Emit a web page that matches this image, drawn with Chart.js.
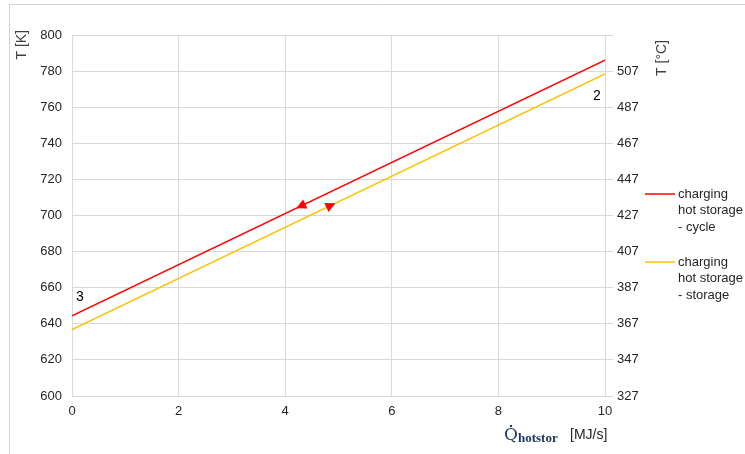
<!DOCTYPE html>
<html>
<head>
<meta charset="utf-8">
<script src="https://cdn.jsdelivr.net/npm/chart.js@4.4.1/dist/chart.umd.min.js"></script>
<style>
  html, body { margin: 0; padding: 0; background: #fff; }
  #box { width: 745px; height: 454px; position: relative; }
</style>
</head>
<body>
<div id="box"><canvas id="myChart"></canvas></div>
<script>
// data
const qValues = [0, 10];
const tCycle = [644.4, 786.1];
const tStorage = [636.8, 778.5];
const seriesNames = [['charging', 'hot storage', '- cycle'], ['charging', 'hot storage', '- storage']];
const seriesColors = ['#ff0000', '#ffc000'];
// arrows along the lines (x position, direction)
const arrowX = [4.3, 4.85];
const arrowDir = [-1, 1];
// point labels
const pointLabels = ['3', '2'];
const pointLabelX = [0.15, 9.85];
const pointLabelY = [655, 766];

const K_TO_C = 273;

function lineAt(ys, x) {
  return ys[0] + (ys[1] - ys[0]) * (x - qValues[0]) / (qValues[1] - qValues[0]);
}

const extras = {
  id: 'extras',
  afterDraw(chart) {
    const ctx = chart.ctx;
    const xs = chart.scales.x, ys = chart.scales.y;
    ctx.save();
    // frame
    ctx.strokeStyle = '#d0d0d0';
    ctx.lineWidth = 1;
    ctx.beginPath();
    ctx.moveTo(9.5, 454);
    ctx.lineTo(9.5, 4.5);
    ctx.lineTo(745, 4.5);
    ctx.stroke();

    // arrows
    const lines = [tCycle, tStorage];
    for (let i = 0; i < arrowX.length; i++) {
      const ax = arrowX[i];
      const px = xs.getPixelForValue(ax);
      const py = ys.getPixelForValue(lineAt(lines[i], ax));
      const px2 = xs.getPixelForValue(ax + 1);
      const py2 = ys.getPixelForValue(lineAt(lines[i], ax + 1));
      let ang = Math.atan2(py2 - py, px2 - px);
      if (arrowDir[i] < 0) ang += Math.PI;
      ctx.save();
      ctx.translate(px, py);
      ctx.rotate(ang);
      ctx.fillStyle = '#ff0000';
      ctx.beginPath();
      ctx.moveTo(5.5, 0);
      ctx.lineTo(-4.5, -5);
      ctx.lineTo(-4.5, 5);
      ctx.closePath();
      ctx.fill();
      ctx.restore();
    }

    // point labels
    ctx.fillStyle = '#000';
    ctx.font = '14px "Liberation Sans", Arial, sans-serif';
    ctx.textBaseline = 'middle';
    ctx.textAlign = 'center';
    for (let i = 0; i < pointLabels.length; i++) {
      ctx.fillText(pointLabels[i], xs.getPixelForValue(pointLabelX[i]), ys.getPixelForValue(pointLabelY[i]));
    }

    // axis titles
    ctx.fillStyle = '#404040';
    ctx.font = '14px "Liberation Sans", Arial, sans-serif';
    ctx.save();
    ctx.translate(22, 30);
    ctx.rotate(-Math.PI / 2);
    ctx.textAlign = 'right';
    ctx.fillText('T [K]', 0, 0);
    ctx.restore();
    ctx.save();
    ctx.translate(662, 40);
    ctx.rotate(-Math.PI / 2);
    ctx.textAlign = 'right';
    ctx.fillText('T [°C]', 0, 0);
    ctx.restore();

    // x title
    ctx.textAlign = 'left';
    ctx.textBaseline = 'alphabetic';
    ctx.fillStyle = '#1f3864';
    ctx.font = '17px "DejaVu Serif", "Liberation Serif", serif';
    ctx.fillText('Q', 504, 440);
    ctx.fillRect(510, 425, 2, 2);
    ctx.font = 'bold 13px "Liberation Serif", serif';
    ctx.fillText('hotstor', 518, 442);
    ctx.fillStyle = '#262626';
    ctx.font = '14px "Liberation Sans", Arial, sans-serif';
    ctx.fillText('[MJ/s]', 570, 439);

    // legend
    const legY = [194, 262];
    for (let i = 0; i < seriesNames.length; i++) {
      ctx.strokeStyle = seriesColors[i];
      ctx.lineWidth = 1.5;
      ctx.beginPath();
      ctx.moveTo(645, legY[i]);
      ctx.lineTo(675, legY[i]);
      ctx.stroke();
      ctx.fillStyle = '#262626';
      ctx.font = '13px "Liberation Sans", Arial, sans-serif';
      ctx.textBaseline = 'middle';
      seriesNames[i].forEach((t, j) => ctx.fillText(t, 678, legY[i] + j * 16.5));
    }
    ctx.restore();
  }
};

const tickFont = { family: '"Liberation Sans", Arial, sans-serif', size: 13 };

new Chart(document.getElementById('myChart'), {
  type: 'scatter',
  data: {
    datasets: [
      {
        label: 'cycle',
        data: qValues.map((x, i) => ({ x, y: tCycle[i] })),
        borderColor: seriesColors[0],
        borderWidth: 1.5,
        showLine: true,
        pointRadius: 0
      },
      {
        label: 'storage',
        data: qValues.map((x, i) => ({ x, y: tStorage[i] })),
        borderColor: seriesColors[1],
        borderWidth: 1.5,
        showLine: true,
        pointRadius: 0
      }
    ]
  },
  options: {
    responsive: true,
    maintainAspectRatio: false,
    animation: false,
    layout: { padding: { top: 35, left: 0, right: 0, bottom: 0 } },
    plugins: { legend: { display: false }, tooltip: { enabled: false } },
    scales: {
      x: {
        type: 'linear', min: 0, max: 10,
        ticks: { stepSize: 2, color: '#262626', font: tickFont, padding: 8 },
        grid: { color: '#d9d9d9', drawTicks: false },
        border: { color: '#d9d9d9' },
        afterFit(s) { s.height = 58; }
      },
      y: {
        position: 'left', min: 600, max: 800,
        ticks: { stepSize: 20, color: '#262626', font: tickFont, padding: 10 },
        grid: { color: '#d9d9d9', drawTicks: false },
        border: { color: '#d9d9d9' },
        afterFit(s) { s.width = 72; }
      },
      y2: {
        position: 'right', min: 600, max: 800,
        ticks: {
          stepSize: 20, color: '#262626', font: tickFont, padding: 4,
          callback: v => v >= 800 ? '' : String(v - K_TO_C)
        },
        grid: { drawOnChartArea: false, color: '#d9d9d9', tickLength: 8 },
        border: { color: '#d9d9d9' },
        afterFit(s) { s.width = 140; }
      }
    }
  },
  plugins: [extras]
});
</script>
</body>
</html>
